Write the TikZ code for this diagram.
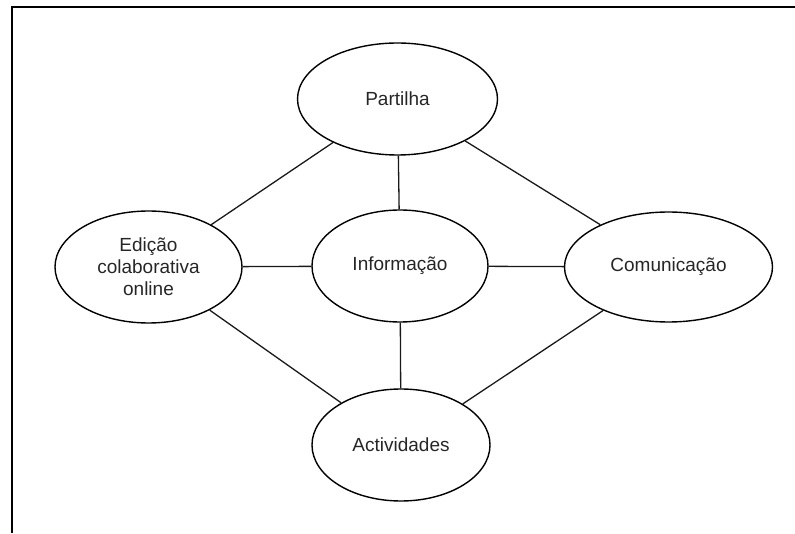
\documentclass[tikz,border=0pt]{standalone}
\usepackage{fontspec}
\setmainfont{Liberation Sans}
\usetikzlibrary{shapes.geometric}
\begin{document}
\begin{tikzpicture}[x=1pt,y=1pt,
  topic/.style={draw, line width=1.4pt, ellipse, inner sep=0pt,
    text=black!85, font=\fontsize{19}{22}\selectfont, align=center},
  link/.style={line width=1.3pt, draw=black!90}]
\useasboundingbox (0,0) rectangle (795,533);
% open frame
\draw[line width=2pt] (12,0) -- (12,526) -- (795,526);
% topics
\node[topic, minimum width=200pt, minimum height=112pt] (par) at (397.5,434) {Partilha};
\node[topic, minimum width=187pt, minimum height=112pt] (edi) at (148.5,266) {Edição\\colaborativa\\online};
\node[topic, minimum width=176pt, minimum height=112pt] (inf) at (400,267) {Informação};
\node[topic, minimum width=208pt, minimum height=110pt] (com) at (668.5,266) {Comunicação};
\node[topic, minimum width=178pt, minimum height=112pt] (act) at (401,88) {Actividades};
% links
\draw[link] (par) -- (edi);
\draw[link] (par) -- (inf);
\draw[link] (par) -- (com);
\draw[link] (edi) -- (inf);
\draw[link] (inf) -- (com);
\draw[link] (edi) -- (act);
\draw[link] (inf) -- (act);
\draw[link] (com) -- (act);
\end{tikzpicture}
\end{document}
